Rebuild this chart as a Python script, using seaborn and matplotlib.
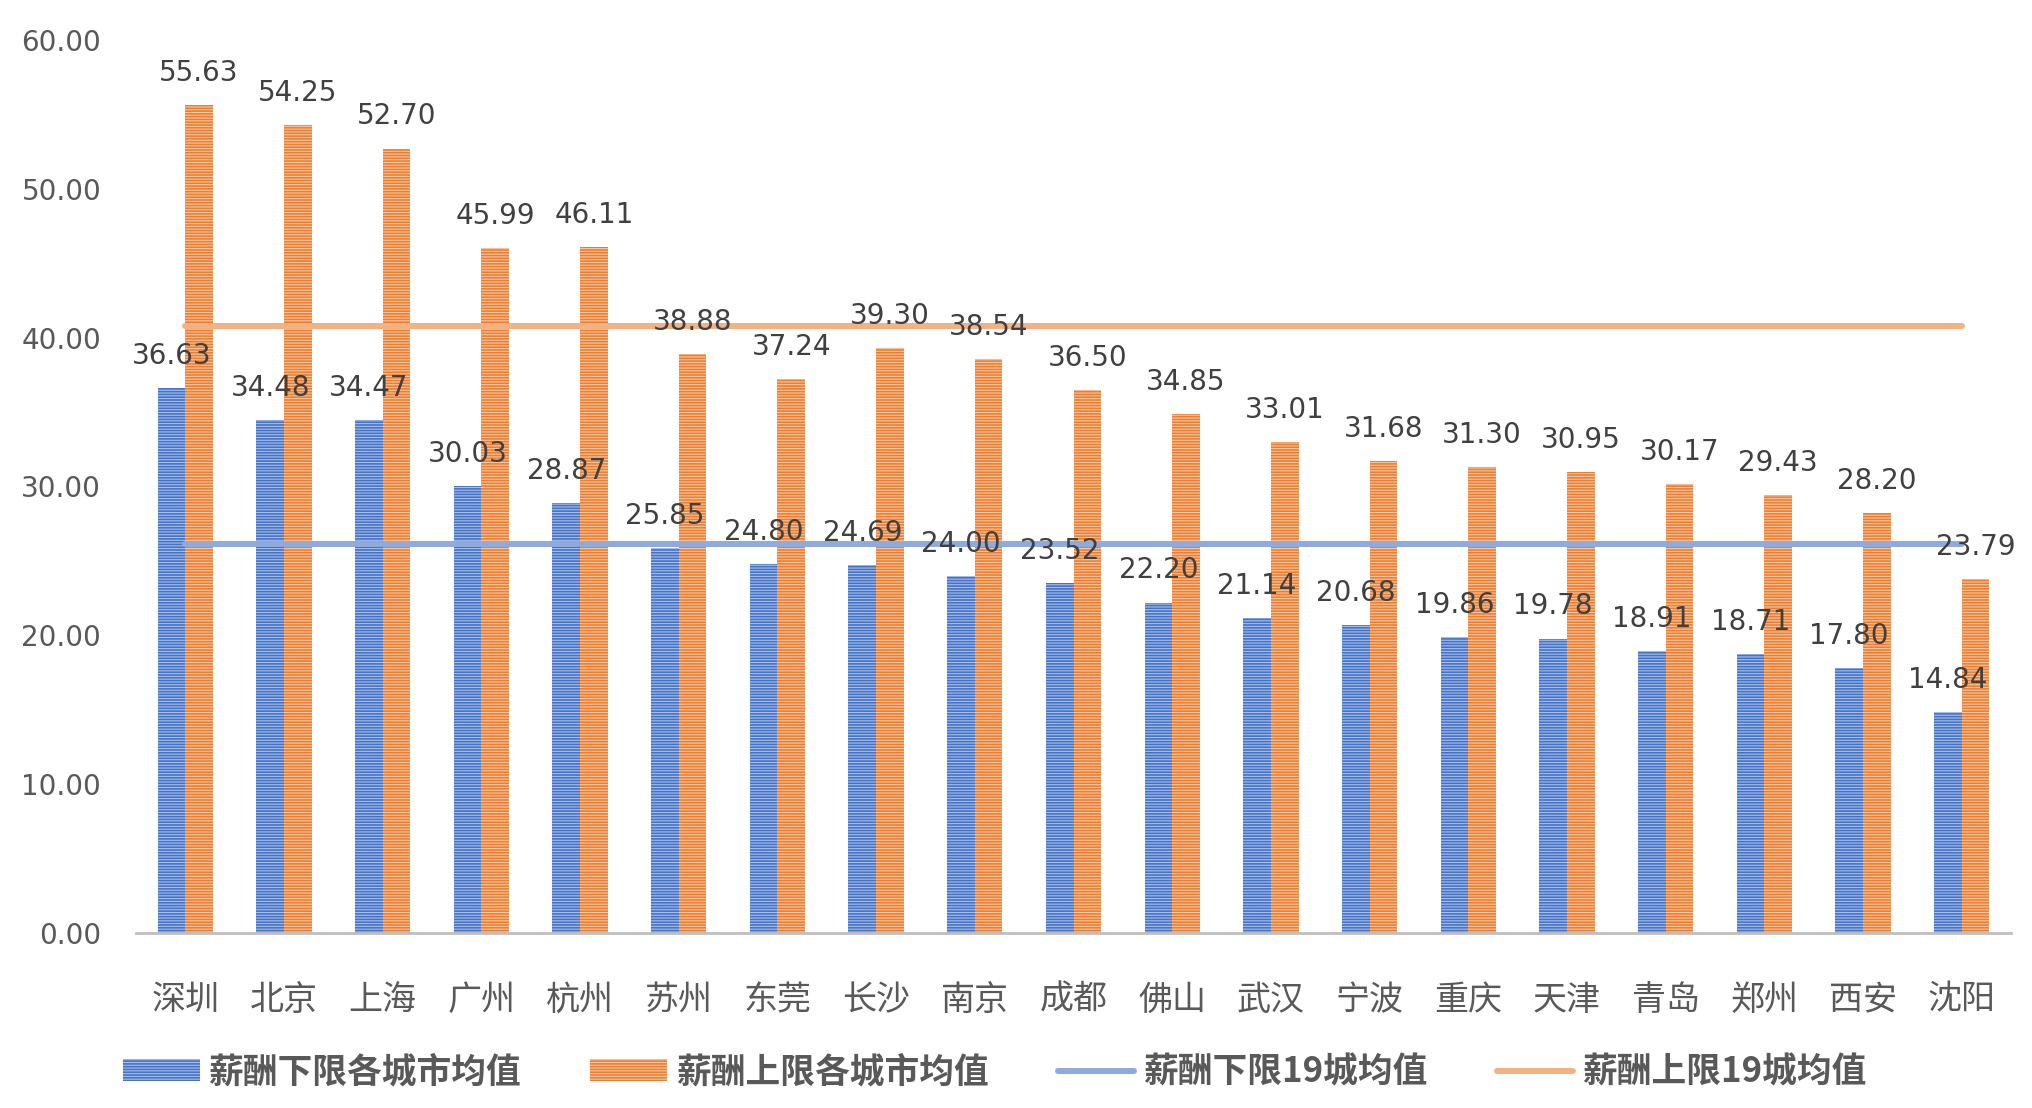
import pandas as pd
import seaborn as sns
import matplotlib.pyplot as plt
from matplotlib.patches import Patch
from matplotlib.lines import Line2D

cities = ["深圳", "北京", "上海", "广州", "杭州", "苏州", "东莞", "长沙", "南京", "成都",
          "佛山", "武汉", "宁波", "重庆", "天津", "青岛", "郑州", "西安", "沈阳"]
low_vals = [36.63, 34.48, 34.47, 30.03, 28.87, 25.85, 24.80, 24.69, 24.00, 23.52,
            22.20, 21.14, 20.68, 19.86, 19.78, 18.91, 18.71, 17.80, 14.84]
high_vals = [55.63, 54.25, 52.70, 45.99, 46.11, 38.88, 37.24, 39.30, 38.54, 36.50,
             34.85, 33.01, 31.68, 31.30, 30.95, 30.17, 29.43, 28.20, 23.79]
low_avg19 = 26.1
high_avg19 = 40.8
series_names = ["薪酬下限各城市均值", "薪酬上限各城市均值", "薪酬下限19城均值", "薪酬上限19城均值"]

sns.set_style("white")
plt.rcParams['font.family'] = ['Noto Sans CJK SC', 'DejaVu Sans']
plt.rcParams['hatch.linewidth'] = 0.8
num_font = ['DejaVu Sans']

df = pd.DataFrame({
    "city": cities * 2,
    "value": low_vals + high_vals,
    "series": [series_names[0]] * len(cities) + [series_names[1]] * len(cities),
})

bar_colors = ["#4472C4", "#ED7D31"]
hatch_colors = ["#A9C0EC", "#F9C8A2"]
line_colors = ["#8FAADC", "#F4B183"]

fig = plt.figure(figsize=(20.32, 11.08), dpi=100)
ax = fig.add_axes([0.0669, 0.158, 0.9228, 0.806])

sns.barplot(data=df, x="city", y="value", hue="series", palette=bar_colors,
            width=0.56, gap=0, ax=ax, legend=False, saturation=1)

for cont, hc in zip(ax.containers, hatch_colors):
    for p in cont:
        p.set_hatch("------")
        p.set_edgecolor(hc)
        p.set_linewidth(0)
    labels = ax.bar_label(cont, fmt="%.2f", padding=13, fontsize=20, color="#404040",
                          family=num_font)
    for t in labels:
        t.set_zorder(6)

x0, x1 = 0, len(cities) - 1
ax.plot([x0, x1], [low_avg19, low_avg19], color=line_colors[0], lw=4.3,
        solid_capstyle="round", zorder=3)
ax.plot([x0, x1], [high_avg19, high_avg19], color=line_colors[1], lw=4.3,
        solid_capstyle="round", zorder=3)

ax.set_ylim(0, 60)
ax.set_xlim(-0.5, len(cities) - 0.5)
ax.set_yticks(range(0, 61, 10))
ax.set_yticklabels([f"{v:.2f}" for v in range(0, 61, 10)], family=num_font)
ax.set_xlabel("")
ax.set_ylabel("")
ax.tick_params(axis="y", length=0, pad=25, labelsize=20, labelcolor="#595959")
ax.tick_params(axis="x", length=0, pad=36, labelsize=24.5, labelcolor="#595959")
for s in ["left", "right", "top"]:
    ax.spines[s].set_visible(False)
ax.spines["bottom"].set_color("#BFBFBF")
ax.spines["bottom"].set_linewidth(2)

handles = [
    Patch(facecolor=bar_colors[0], edgecolor=hatch_colors[0], hatch="------", linewidth=0),
    Patch(facecolor=bar_colors[1], edgecolor=hatch_colors[1], hatch="------", linewidth=0),
    Line2D([], [], color=line_colors[0], lw=4.3, solid_capstyle="round"),
    Line2D([], [], color=line_colors[1], lw=4.3, solid_capstyle="round"),
]
leg = fig.legend(handles, series_names, loc="center", bbox_to_anchor=(0.4895, 0.0325),
                 ncol=4, frameon=False, handlelength=2.2, handleheight=0.6,
                 handletextpad=0.25, columnspacing=2.0,
                 prop={"size": 25, "weight": "bold", "family": ['Noto Sans CJK SC', 'DejaVu Sans']})
for t in leg.get_texts():
    t.set_color("#595959")

fig.savefig("out.png", dpi=100)
